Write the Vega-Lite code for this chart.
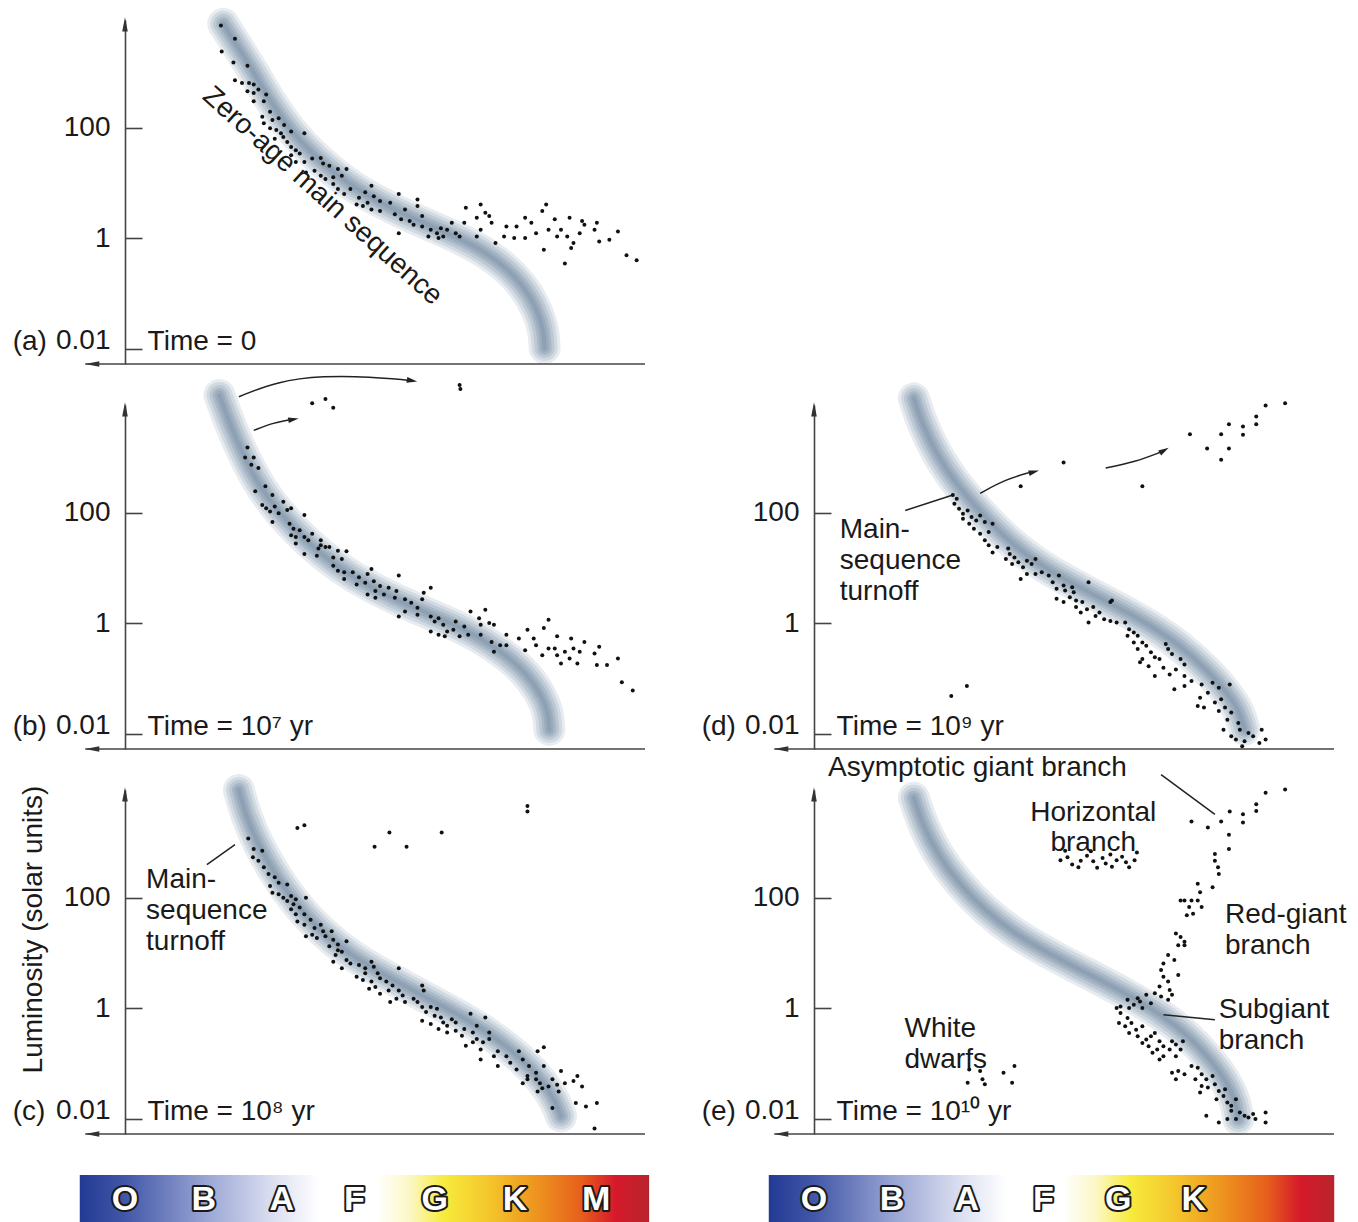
{
  "$schema": "https://vega.github.io/schema/vega-lite/v6.json",
  "background": "white",
  "padding": {"left": 12, "top": -41, "right": 0, "bottom": 0},
  "columns": 2,
  "bounds": "flush",
  "spacing": {"row": 41, "column": 169},
  "datasets": {
    "frame": [{"spec": -0.51, "spec2": 6.667, "logL": -2.28}],
    "frame_heads": [{"spec": -0.42, "logL": -2.28, "angle": 180}, {"spec": 0, "logL": 3.87, "angle": -90}],
    "band_a": [{"spec":1.26,"logL":3.88},{"spec":1.43,"logL":3.50},{"spec":1.65,"logL":3.01},{"spec":1.86,"logL":2.48},{"spec":2.13,"logL":1.93},{"spec":2.46,"logL":1.44},{"spec":2.83,"logL":1.01},{"spec":3.27,"logL":0.64},{"spec":3.81,"logL":0.28},{"spec":4.35,"logL":-0.03},{"spec":4.78,"logL":-0.40},{"spec":5.10,"logL":-0.83},{"spec":5.29,"logL":-1.31},{"spec":5.37,"logL":-1.68},{"spec":5.38,"logL":-1.99}],
    "band_b": [{"spec":1.21,"logL":4.13},{"spec":1.35,"logL":3.58},{"spec":1.54,"logL":2.97},{"spec":1.75,"logL":2.42},{"spec":2.02,"logL":1.93},{"spec":2.35,"logL":1.44},{"spec":2.73,"logL":1.01},{"spec":3.16,"logL":0.64},{"spec":3.70,"logL":0.28},{"spec":4.24,"logL":-0.03},{"spec":4.72,"logL":-0.40},{"spec":5.10,"logL":-0.83},{"spec":5.32,"logL":-1.25},{"spec":5.43,"logL":-1.62},{"spec":5.44,"logL":-1.93}],
    "band_c": [{"spec":1.46,"logL":3.95},{"spec":1.54,"logL":3.52},{"spec":1.70,"logL":2.98},{"spec":1.92,"logL":2.43},{"spec":2.19,"logL":1.88},{"spec":2.51,"logL":1.39},{"spec":2.89,"logL":0.96},{"spec":3.32,"logL":0.60},{"spec":3.81,"logL":0.23},{"spec":4.29,"logL":-0.13},{"spec":4.72,"logL":-0.50},{"spec":5.10,"logL":-0.93},{"spec":5.37,"logL":-1.35},{"spec":5.53,"logL":-1.72},{"spec":5.59,"logL":-1.96}],
    "band_d": [{"spec":1.28,"logL":4.07},{"spec":1.39,"logL":3.59},{"spec":1.58,"logL":3.04},{"spec":1.80,"logL":2.56},{"spec":2.13,"logL":2.01},{"spec":2.46,"logL":1.53},{"spec":2.84,"logL":1.10},{"spec":3.28,"logL":0.74},{"spec":3.77,"logL":0.38},{"spec":4.26,"logL":0.01},{"spec":4.70,"logL":-0.41},{"spec":5.03,"logL":-0.84},{"spec":5.30,"logL":-1.26},{"spec":5.46,"logL":-1.62},{"spec":5.52,"logL":-1.93}],
    "band_e": [{"spec":1.28,"logL":3.81},{"spec":1.39,"logL":3.33},{"spec":1.58,"logL":2.79},{"spec":1.86,"logL":2.25},{"spec":2.19,"logL":1.77},{"spec":2.57,"logL":1.35},{"spec":3.01,"logL":0.99},{"spec":3.50,"logL":0.63},{"spec":3.99,"logL":0.27},{"spec":4.43,"logL":-0.09},{"spec":4.81,"logL":-0.51},{"spec":5.08,"logL":-0.93},{"spec":5.30,"logL":-1.35},{"spec":5.41,"logL":-1.71},{"spec":5.44,"logL":-2.01}],
    "dots_a": [{"spec":1.23,"logL":3.85},{"spec":1.41,"logL":3.61},{"spec":1.24,"logL":3.38},{"spec":1.39,"logL":3.18},{"spec":1.57,"logL":3.12},{"spec":1.41,"logL":2.86},{"spec":1.50,"logL":2.81},{"spec":1.59,"logL":2.81},{"spec":1.65,"logL":2.78},{"spec":1.57,"logL":2.66},{"spec":1.65,"logL":2.63},{"spec":1.71,"logL":2.69},{"spec":1.81,"logL":2.60},{"spec":1.78,"logL":2.48},{"spec":1.65,"logL":2.48},{"spec":1.86,"logL":2.29},{"spec":1.76,"logL":2.20},{"spec":1.89,"logL":2.14},{"spec":1.97,"logL":2.17},{"spec":2.04,"logL":2.05},{"spec":1.78,"logL":2.08},{"spec":1.86,"logL":1.99},{"spec":1.94,"logL":1.96},{"spec":2.00,"logL":1.90},{"spec":2.13,"logL":1.93},{"spec":2.30,"logL":1.90},{"spec":1.92,"logL":1.80},{"spec":2.03,"logL":1.83},{"spec":2.08,"logL":1.74},{"spec":2.13,"logL":1.65},{"spec":2.19,"logL":1.59},{"spec":2.24,"logL":1.53},{"spec":2.13,"logL":1.50},{"spec":2.19,"logL":1.38},{"spec":2.30,"logL":1.38},{"spec":2.40,"logL":1.44},{"spec":2.51,"logL":1.45},{"spec":2.54,"logL":1.35},{"spec":2.62,"logL":1.31},{"spec":2.73,"logL":1.25},{"spec":2.84,"logL":1.25},{"spec":2.32,"logL":1.19},{"spec":2.43,"logL":1.22},{"spec":2.51,"logL":1.13},{"spec":2.67,"logL":1.10},{"spec":2.78,"logL":1.13},{"spec":2.57,"logL":1.07},{"spec":2.67,"logL":0.98},{"spec":2.73,"logL":0.89},{"spec":2.81,"logL":0.80},{"spec":2.89,"logL":0.89},{"spec":3.16,"logL":0.95},{"spec":3.08,"logL":0.83},{"spec":3.19,"logL":0.76},{"spec":3.27,"logL":0.67},{"spec":3.00,"logL":0.73},{"spec":3.11,"logL":0.64},{"spec":2.97,"logL":0.61},{"spec":3.05,"logL":0.58},{"spec":3.16,"logL":0.52},{"spec":3.27,"logL":0.49},{"spec":3.40,"logL":0.64},{"spec":3.51,"logL":0.80},{"spec":3.75,"logL":0.70},{"spec":3.59,"logL":0.52},{"spec":3.46,"logL":0.43},{"spec":3.54,"logL":0.34},{"spec":3.65,"logL":0.31},{"spec":3.75,"logL":0.58},{"spec":3.81,"logL":0.40},{"spec":3.70,"logL":0.24},{"spec":3.51,"logL":0.09},{"spec":3.81,"logL":0.21},{"spec":3.92,"logL":0.15},{"spec":3.89,"logL":0.03},{"spec":4.00,"logL":0.09},{"spec":4.08,"logL":0.03},{"spec":4.05,"logL":0.18},{"spec":4.13,"logL":0.15},{"spec":4.19,"logL":0.28},{"spec":4.24,"logL":0.09},{"spec":4.35,"logL":0.28},{"spec":4.37,"logL":0.55},{"spec":4.51,"logL":0.37},{"spec":4.56,"logL":0.61},{"spec":4.62,"logL":0.46},{"spec":4.70,"logL":0.28},{"spec":4.56,"logL":0.15},{"spec":4.75,"logL":-0.09},{"spec":4.67,"logL":0.40},{"spec":4.86,"logL":0.03},{"spec":4.89,"logL":0.21},{"spec":5.02,"logL":0.21},{"spec":5.13,"logL":0.37},{"spec":5.21,"logL":0.28},{"spec":5.13,"logL":0.00},{"spec":5.27,"logL":0.09},{"spec":5.35,"logL":0.49},{"spec":5.40,"logL":0.61},{"spec":5.43,"logL":0.15},{"spec":5.37,"logL":-0.21},{"spec":5.51,"logL":0.34},{"spec":5.54,"logL":0.03},{"spec":5.59,"logL":0.15},{"spec":5.67,"logL":0.03},{"spec":5.70,"logL":0.37},{"spec":5.72,"logL":-0.18},{"spec":5.75,"logL":-0.09},{"spec":5.83,"logL":0.09},{"spec":5.86,"logL":0.31},{"spec":5.89,"logL":0.24},{"spec":5.64,"logL":-0.46},{"spec":6.02,"logL":0.15},{"spec":6.05,"logL":0.28},{"spec":6.08,"logL":-0.06},{"spec":6.21,"logL":-0.03},{"spec":6.32,"logL":0.12},{"spec":6.43,"logL":-0.31},{"spec":6.56,"logL":-0.40},{"spec":4.51,"logL":0.03},{"spec":4.29,"logL":0.03},{"spec":4.02,"logL":0.00},{"spec":4.99,"logL":0.00}],
    "dots_b": [{"spec":2.40,"logL":3.98},{"spec":2.57,"logL":4.06},{"spec":2.67,"logL":3.90},{"spec":4.29,"logL":4.31},{"spec":4.30,"logL":4.24},{"spec":1.57,"logL":3.18},{"spec":1.54,"logL":3.00},{"spec":1.65,"logL":3.00},{"spec":1.62,"logL":2.87},{"spec":1.71,"logL":2.81},{"spec":1.67,"logL":2.39},{"spec":1.80,"logL":2.48},{"spec":1.89,"logL":2.32},{"spec":1.76,"logL":2.14},{"spec":1.81,"logL":2.08},{"spec":1.92,"logL":2.11},{"spec":2.03,"logL":2.20},{"spec":1.86,"logL":2.02},{"spec":1.97,"logL":1.99},{"spec":1.89,"logL":1.83},{"spec":2.08,"logL":2.05},{"spec":2.13,"logL":2.08},{"spec":2.30,"logL":1.96},{"spec":2.11,"logL":1.80},{"spec":2.16,"logL":1.71},{"spec":2.24,"logL":1.68},{"spec":2.19,"logL":1.56},{"spec":2.13,"logL":1.59},{"spec":2.30,"logL":1.56},{"spec":2.35,"logL":1.50},{"spec":2.40,"logL":1.62},{"spec":2.51,"logL":1.50},{"spec":2.48,"logL":1.35},{"spec":2.51,"logL":1.41},{"spec":2.57,"logL":1.38},{"spec":2.62,"logL":1.38},{"spec":2.73,"logL":1.31},{"spec":2.84,"logL":1.30},{"spec":2.19,"logL":1.44},{"spec":2.30,"logL":1.25},{"spec":2.46,"logL":1.22},{"spec":2.67,"logL":1.19},{"spec":2.78,"logL":1.16},{"spec":2.67,"logL":1.04},{"spec":2.73,"logL":0.95},{"spec":2.81,"logL":0.92},{"spec":2.92,"logL":0.92},{"spec":2.81,"logL":0.80},{"spec":3.00,"logL":0.83},{"spec":3.11,"logL":0.89},{"spec":3.16,"logL":0.98},{"spec":2.97,"logL":0.70},{"spec":3.08,"logL":0.73},{"spec":3.19,"logL":0.76},{"spec":3.27,"logL":0.67},{"spec":3.21,"logL":0.58},{"spec":3.11,"logL":0.52},{"spec":3.21,"logL":0.46},{"spec":3.32,"logL":0.52},{"spec":3.38,"logL":0.64},{"spec":3.51,"logL":0.86},{"spec":3.48,"logL":0.58},{"spec":3.46,"logL":0.46},{"spec":3.59,"logL":0.43},{"spec":3.67,"logL":0.37},{"spec":3.51,"logL":0.12},{"spec":3.59,"logL":0.21},{"spec":3.75,"logL":0.28},{"spec":3.81,"logL":0.43},{"spec":3.83,"logL":0.55},{"spec":3.92,"logL":0.64},{"spec":3.75,"logL":0.15},{"spec":3.92,"logL":0.12},{"spec":3.97,"logL":0.03},{"spec":4.02,"logL":0.09},{"spec":4.08,"logL":-0.03},{"spec":4.13,"logL":-0.15},{"spec":3.92,"logL":-0.15},{"spec":4.02,"logL":-0.21},{"spec":4.10,"logL":-0.24},{"spec":4.21,"logL":-0.12},{"spec":4.24,"logL":0.03},{"spec":4.35,"logL":-0.06},{"spec":4.43,"logL":0.21},{"spec":4.29,"logL":-0.24},{"spec":4.40,"logL":-0.21},{"spec":4.54,"logL":0.09},{"spec":4.62,"logL":0.24},{"spec":4.56,"logL":-0.03},{"spec":4.67,"logL":0.00},{"spec":4.73,"logL":-0.03},{"spec":4.56,"logL":-0.21},{"spec":4.70,"logL":-0.34},{"spec":4.73,"logL":-0.52},{"spec":4.81,"logL":-0.40},{"spec":4.89,"logL":-0.21},{"spec":4.89,"logL":-0.40},{"spec":5.05,"logL":-0.28},{"spec":5.16,"logL":-0.12},{"spec":5.24,"logL":-0.28},{"spec":5.13,"logL":-0.49},{"spec":5.27,"logL":-0.40},{"spec":5.37,"logL":-0.09},{"spec":5.43,"logL":0.06},{"spec":5.35,"logL":-0.58},{"spec":5.43,"logL":-0.46},{"spec":5.54,"logL":-0.24},{"spec":5.51,"logL":-0.46},{"spec":5.54,"logL":-0.58},{"spec":5.64,"logL":-0.52},{"spec":5.59,"logL":-0.73},{"spec":5.70,"logL":-0.64},{"spec":5.72,"logL":-0.28},{"spec":5.75,"logL":-0.46},{"spec":5.80,"logL":-0.73},{"spec":5.89,"logL":-0.34},{"spec":5.83,"logL":-0.52},{"spec":6.02,"logL":-0.55},{"spec":6.08,"logL":-0.43},{"spec":6.05,"logL":-0.76},{"spec":6.18,"logL":-0.76},{"spec":6.32,"logL":-0.64},{"spec":6.37,"logL":-1.07},{"spec":6.51,"logL":-1.22}],
    "dots_c": [{"spec":2.21,"logL":3.26},{"spec":2.30,"logL":3.31},{"spec":3.20,"logL":2.92},{"spec":3.39,"logL":3.18},{"spec":3.61,"logL":2.92},{"spec":4.06,"logL":3.18},{"spec":5.16,"logL":3.66},{"spec":5.16,"logL":3.56},{"spec":1.58,"logL":3.07},{"spec":1.65,"logL":2.88},{"spec":1.64,"logL":2.73},{"spec":1.76,"logL":2.85},{"spec":1.71,"logL":2.67},{"spec":1.78,"logL":2.55},{"spec":1.84,"logL":2.43},{"spec":1.92,"logL":2.37},{"spec":1.86,"logL":2.21},{"spec":1.97,"logL":2.27},{"spec":2.08,"logL":2.24},{"spec":1.89,"logL":2.09},{"spec":1.97,"logL":2.06},{"spec":2.03,"logL":2.00},{"spec":2.13,"logL":2.03},{"spec":2.19,"logL":1.97},{"spec":2.32,"logL":2.00},{"spec":2.08,"logL":1.94},{"spec":2.16,"logL":1.88},{"spec":2.24,"logL":1.82},{"spec":2.13,"logL":1.79},{"spec":2.19,"logL":1.70},{"spec":2.30,"logL":1.70},{"spec":2.21,"logL":1.57},{"spec":2.30,"logL":1.51},{"spec":2.38,"logL":1.60},{"spec":2.43,"logL":1.45},{"spec":2.51,"logL":1.51},{"spec":2.54,"logL":1.39},{"spec":2.40,"logL":1.33},{"spec":2.32,"logL":1.30},{"spec":2.46,"logL":1.27},{"spec":2.57,"logL":1.30},{"spec":2.65,"logL":1.39},{"spec":2.67,"logL":1.24},{"spec":2.73,"logL":1.15},{"spec":2.84,"logL":1.21},{"spec":2.62,"logL":1.12},{"spec":2.73,"logL":1.05},{"spec":2.70,"logL":0.96},{"spec":2.78,"logL":1.02},{"spec":2.67,"logL":0.84},{"spec":2.84,"logL":0.87},{"spec":2.78,"logL":0.72},{"spec":2.89,"logL":0.81},{"spec":3.00,"logL":0.78},{"spec":3.08,"logL":0.72},{"spec":3.16,"logL":0.84},{"spec":3.19,"logL":0.75},{"spec":2.97,"logL":0.57},{"spec":3.08,"logL":0.63},{"spec":3.24,"logL":0.63},{"spec":3.05,"logL":0.51},{"spec":3.16,"logL":0.48},{"spec":3.27,"logL":0.54},{"spec":3.35,"logL":0.48},{"spec":3.51,"logL":0.72},{"spec":3.21,"logL":0.38},{"spec":3.13,"logL":0.35},{"spec":3.38,"logL":0.32},{"spec":3.27,"logL":0.26},{"spec":3.43,"logL":0.41},{"spec":3.51,"logL":0.32},{"spec":3.56,"logL":0.23},{"spec":3.48,"logL":0.17},{"spec":3.40,"logL":0.11},{"spec":3.59,"logL":0.11},{"spec":3.70,"logL":0.17},{"spec":3.81,"logL":0.41},{"spec":3.83,"logL":0.32},{"spec":3.75,"logL":0.11},{"spec":3.81,"logL":0.02},{"spec":3.92,"logL":0.02},{"spec":4.00,"logL":-0.01},{"spec":3.86,"logL":-0.07},{"spec":3.81,"logL":-0.23},{"spec":3.97,"logL":-0.14},{"spec":4.05,"logL":-0.17},{"spec":4.08,"logL":-0.26},{"spec":3.92,"logL":-0.29},{"spec":4.13,"logL":-0.32},{"spec":4.19,"logL":-0.20},{"spec":4.24,"logL":-0.26},{"spec":4.02,"logL":-0.38},{"spec":4.13,"logL":-0.44},{"spec":4.24,"logL":-0.41},{"spec":4.32,"logL":-0.50},{"spec":4.35,"logL":-0.38},{"spec":4.43,"logL":-0.10},{"spec":4.46,"logL":-0.44},{"spec":4.51,"logL":-0.32},{"spec":4.62,"logL":-0.17},{"spec":4.51,"logL":-0.56},{"spec":4.59,"logL":-0.62},{"spec":4.67,"logL":-0.44},{"spec":4.67,"logL":-0.56},{"spec":4.37,"logL":-0.68},{"spec":4.56,"logL":-0.75},{"spec":4.46,"logL":-0.62},{"spec":4.73,"logL":-0.87},{"spec":4.56,"logL":-0.93},{"spec":4.78,"logL":-0.78},{"spec":4.89,"logL":-0.87},{"spec":4.94,"logL":-0.99},{"spec":5.05,"logL":-0.78},{"spec":4.78,"logL":-1.05},{"spec":5.02,"logL":-1.11},{"spec":5.10,"logL":-0.93},{"spec":5.18,"logL":-1.05},{"spec":5.27,"logL":-1.17},{"spec":5.16,"logL":-1.23},{"spec":5.27,"logL":-1.29},{"spec":5.32,"logL":-1.36},{"spec":5.10,"logL":-1.36},{"spec":5.16,"logL":-1.29},{"spec":5.29,"logL":-0.78},{"spec":5.37,"logL":-0.71},{"spec":5.37,"logL":-1.05},{"spec":5.35,"logL":-1.45},{"spec":5.43,"logL":-1.42},{"spec":5.29,"logL":-1.51},{"spec":5.48,"logL":-1.29},{"spec":5.54,"logL":-1.39},{"spec":5.59,"logL":-1.14},{"spec":5.56,"logL":-1.51},{"spec":5.64,"logL":-1.36},{"spec":5.75,"logL":-1.32},{"spec":5.80,"logL":-1.23},{"spec":5.86,"logL":-1.42},{"spec":5.78,"logL":-1.72},{"spec":5.91,"logL":-1.78},{"spec":6.05,"logL":-1.72},{"spec":6.02,"logL":-2.18},{"spec":5.48,"logL":-1.81}],
    "dots_d": [{"spec":2.65,"logL":2.48},{"spec":3.20,"logL":2.91},{"spec":4.21,"logL":2.48},{"spec":4.82,"logL":3.42},{"spec":5.04,"logL":3.16},{"spec":5.22,"logL":3.42},{"spec":5.32,"logL":3.60},{"spec":5.32,"logL":3.16},{"spec":5.22,"logL":2.96},{"spec":5.50,"logL":3.56},{"spec":5.50,"logL":3.41},{"spec":5.67,"logL":3.74},{"spec":5.67,"logL":3.60},{"spec":5.79,"logL":3.94},{"spec":6.04,"logL":3.98},{"spec":1.76,"logL":-1.32},{"spec":1.96,"logL":-1.14},{"spec":1.78,"logL":2.32},{"spec":1.80,"logL":2.16},{"spec":1.86,"logL":2.07},{"spec":1.91,"logL":1.98},{"spec":1.83,"logL":2.25},{"spec":1.97,"logL":2.04},{"spec":2.02,"logL":1.92},{"spec":1.91,"logL":1.89},{"spec":1.99,"logL":1.80},{"spec":2.08,"logL":1.86},{"spec":2.13,"logL":1.95},{"spec":2.19,"logL":1.83},{"spec":2.05,"logL":1.71},{"spec":2.13,"logL":1.62},{"spec":2.24,"logL":1.65},{"spec":2.29,"logL":1.80},{"spec":2.19,"logL":1.50},{"spec":2.24,"logL":1.41},{"spec":2.29,"logL":1.28},{"spec":2.35,"logL":1.38},{"spec":2.49,"logL":1.35},{"spec":2.51,"logL":1.25},{"spec":2.46,"logL":1.16},{"spec":2.57,"logL":1.19},{"spec":2.62,"logL":1.10},{"spec":2.54,"logL":1.07},{"spec":2.68,"logL":1.01},{"spec":2.73,"logL":1.13},{"spec":2.79,"logL":1.07},{"spec":2.84,"logL":1.16},{"spec":2.65,"logL":0.80},{"spec":2.73,"logL":0.89},{"spec":2.84,"logL":0.89},{"spec":2.92,"logL":0.92},{"spec":3.01,"logL":0.86},{"spec":3.14,"logL":0.86},{"spec":3.06,"logL":0.74},{"spec":3.11,"logL":0.62},{"spec":3.20,"logL":0.68},{"spec":3.22,"logL":0.59},{"spec":3.31,"logL":0.65},{"spec":3.33,"logL":0.56},{"spec":3.52,"logL":0.74},{"spec":3.11,"logL":0.44},{"spec":3.20,"logL":0.38},{"spec":3.28,"logL":0.47},{"spec":3.36,"logL":0.41},{"spec":3.44,"logL":0.38},{"spec":3.50,"logL":0.25},{"spec":3.58,"logL":0.29},{"spec":3.66,"logL":0.19},{"spec":3.80,"logL":0.38},{"spec":3.82,"logL":0.41},{"spec":3.36,"logL":0.29},{"spec":3.42,"logL":0.19},{"spec":3.52,"logL":0.01},{"spec":3.61,"logL":0.13},{"spec":3.72,"logL":0.07},{"spec":3.80,"logL":0.04},{"spec":3.88,"logL":0.01},{"spec":3.99,"logL":0.01},{"spec":4.04,"logL":-0.11},{"spec":4.10,"logL":-0.17},{"spec":4.02,"logL":-0.23},{"spec":4.15,"logL":-0.23},{"spec":4.21,"logL":-0.35},{"spec":4.10,"logL":-0.35},{"spec":4.15,"logL":-0.47},{"spec":4.26,"logL":-0.41},{"spec":4.32,"logL":-0.53},{"spec":4.21,"logL":-0.65},{"spec":4.37,"logL":-0.62},{"spec":4.43,"logL":-0.65},{"spec":4.51,"logL":-0.38},{"spec":4.54,"logL":-0.47},{"spec":4.59,"logL":-0.56},{"spec":4.70,"logL":-0.65},{"spec":4.75,"logL":-0.75},{"spec":4.18,"logL":-0.71},{"spec":4.29,"logL":-0.78},{"spec":4.37,"logL":-0.96},{"spec":4.48,"logL":-0.81},{"spec":4.56,"logL":-0.93},{"spec":4.64,"logL":-0.84},{"spec":4.75,"logL":-0.96},{"spec":4.62,"logL":-1.20},{"spec":4.75,"logL":-1.14},{"spec":4.84,"logL":-1.05},{"spec":4.97,"logL":-1.11},{"spec":4.95,"logL":-1.35},{"spec":5.05,"logL":-1.26},{"spec":5.11,"logL":-1.08},{"spec":5.19,"logL":-1.17},{"spec":5.33,"logL":-1.11},{"spec":5.14,"logL":-1.44},{"spec":5.22,"logL":-1.38},{"spec":5.27,"logL":-1.53},{"spec":5.19,"logL":-1.59},{"spec":5.35,"logL":-1.62},{"spec":5.30,"logL":-1.75},{"spec":5.44,"logL":-1.81},{"spec":5.25,"logL":-1.93},{"spec":5.35,"logL":-2.05},{"spec":5.46,"logL":-1.93},{"spec":5.52,"logL":-2.14},{"spec":5.57,"logL":-1.99},{"spec":5.63,"logL":-2.05},{"spec":5.74,"logL":-1.93},{"spec":5.79,"logL":-2.11},{"spec":5.71,"logL":-2.17},{"spec":5.49,"logL":-2.23},{"spec":5.41,"logL":-2.11},{"spec":4.92,"logL":-1.50},{"spec":5.00,"logL":-1.53}],
    "dots_e": [{"spec":3.16,"logL":2.68},{"spec":3.25,"logL":2.73},{"spec":3.31,"logL":2.60},{"spec":3.39,"logL":2.55},{"spec":3.42,"logL":2.67},{"spec":3.50,"logL":2.76},{"spec":3.58,"logL":2.66},{"spec":3.63,"logL":2.54},{"spec":3.70,"logL":2.72},{"spec":3.74,"logL":2.62},{"spec":3.82,"logL":2.56},{"spec":3.88,"logL":2.68},{"spec":3.95,"logL":2.74},{"spec":4.00,"logL":2.64},{"spec":4.04,"logL":2.55},{"spec":4.11,"logL":2.68},{"spec":4.14,"logL":2.82},{"spec":3.55,"logL":2.84},{"spec":3.22,"logL":2.85},{"spec":3.80,"logL":2.78},{"spec":4.84,"logL":3.38},{"spec":5.05,"logL":3.27},{"spec":5.22,"logL":3.38},{"spec":5.33,"logL":3.56},{"spec":5.32,"logL":3.14},{"spec":5.32,"logL":2.88},{"spec":5.50,"logL":3.51},{"spec":5.50,"logL":3.36},{"spec":5.67,"logL":3.69},{"spec":5.67,"logL":3.57},{"spec":5.79,"logL":3.90},{"spec":6.04,"logL":3.96},{"spec":5.14,"logL":2.79},{"spec":5.14,"logL":2.67},{"spec":5.18,"logL":2.55},{"spec":5.19,"logL":2.43},{"spec":5.11,"logL":2.19},{"spec":4.92,"logL":2.25},{"spec":4.95,"logL":2.10},{"spec":4.75,"logL":1.95},{"spec":4.84,"logL":1.95},{"spec":4.92,"logL":1.95},{"spec":4.97,"logL":1.83},{"spec":4.81,"logL":1.83},{"spec":4.86,"logL":1.71},{"spec":4.78,"logL":1.68},{"spec":4.70,"logL":1.95},{"spec":4.64,"logL":1.35},{"spec":4.70,"logL":1.29},{"spec":4.75,"logL":1.20},{"spec":4.67,"logL":1.14},{"spec":4.75,"logL":1.14},{"spec":4.54,"logL":0.96},{"spec":4.62,"logL":0.87},{"spec":4.48,"logL":0.81},{"spec":4.45,"logL":0.69},{"spec":4.48,"logL":0.57},{"spec":4.67,"logL":0.60},{"spec":4.54,"logL":0.48},{"spec":4.43,"logL":0.39},{"spec":4.56,"logL":0.33},{"spec":4.59,"logL":0.24},{"spec":4.45,"logL":0.21},{"spec":4.54,"logL":0.15},{"spec":4.37,"logL":0.27},{"spec":4.26,"logL":0.24},{"spec":4.15,"logL":0.18},{"spec":4.18,"logL":0.12},{"spec":4.32,"logL":0.09},{"spec":4.02,"logL":0.15},{"spec":3.93,"logL":0.03},{"spec":4.04,"logL":0.00},{"spec":4.10,"logL":0.06},{"spec":4.21,"logL":0.00},{"spec":3.88,"logL":0.00},{"spec":3.93,"logL":-0.09},{"spec":4.02,"logL":-0.18},{"spec":3.91,"logL":-0.27},{"spec":4.07,"logL":-0.27},{"spec":3.99,"logL":-0.33},{"spec":4.13,"logL":-0.39},{"spec":4.21,"logL":-0.33},{"spec":4.04,"logL":-0.45},{"spec":4.15,"logL":-0.51},{"spec":4.26,"logL":-0.57},{"spec":4.32,"logL":-0.51},{"spec":4.37,"logL":-0.45},{"spec":4.43,"logL":-0.60},{"spec":4.21,"logL":-0.63},{"spec":4.29,"logL":-0.69},{"spec":4.40,"logL":-0.75},{"spec":4.34,"logL":-0.81},{"spec":4.48,"logL":-0.69},{"spec":4.59,"logL":-0.60},{"spec":4.56,"logL":-0.75},{"spec":4.64,"logL":-0.66},{"spec":4.73,"logL":-0.60},{"spec":4.70,"logL":-0.75},{"spec":4.48,"logL":-0.87},{"spec":4.64,"logL":-0.87},{"spec":4.43,"logL":-0.93},{"spec":4.59,"logL":-1.17},{"spec":4.67,"logL":-1.14},{"spec":4.75,"logL":-1.20},{"spec":4.64,"logL":-1.29},{"spec":4.84,"logL":-1.05},{"spec":4.92,"logL":-1.08},{"spec":4.97,"logL":-1.20},{"spec":5.03,"logL":-1.29},{"spec":5.11,"logL":-1.23},{"spec":4.89,"logL":-1.29},{"spec":4.97,"logL":-1.41},{"spec":5.05,"logL":-1.44},{"spec":5.14,"logL":-1.38},{"spec":5.19,"logL":-1.50},{"spec":5.27,"logL":-1.47},{"spec":5.25,"logL":-1.59},{"spec":5.16,"logL":-1.65},{"spec":5.30,"logL":-1.71},{"spec":5.35,"logL":-1.77},{"spec":5.41,"logL":-1.65},{"spec":5.35,"logL":-1.86},{"spec":5.46,"logL":-1.89},{"spec":5.41,"logL":-2.01},{"spec":5.52,"logL":-1.95},{"spec":5.30,"logL":-2.01},{"spec":5.19,"logL":-2.07},{"spec":5.03,"logL":-1.95},{"spec":4.95,"logL":-1.53},{"spec":5.57,"logL":-1.98},{"spec":5.66,"logL":-2.01},{"spec":5.79,"logL":-1.89},{"spec":5.79,"logL":-2.07},{"spec":5.63,"logL":-1.92},{"spec":1.99,"logL":-1.11},{"spec":2.13,"logL":-1.14},{"spec":2.43,"logL":-1.17},{"spec":2.57,"logL":-1.05},{"spec":1.97,"logL":-1.35},{"spec":2.16,"logL":-1.29},{"spec":2.19,"logL":-1.38},{"spec":2.54,"logL":-1.35}],
    "classes_left": [{"spec":0,"cls":"O"},{"spec":1.01,"cls":"B"},{"spec":2.01,"cls":"A"},{"spec":2.94,"cls":"F"},{"spec":3.97,"cls":"G"},{"spec":5.0,"cls":"K"},{"spec":6.04,"cls":"M"}],
    "classes_right": [{"spec":0,"cls":"O"},{"spec":1.0,"cls":"B"},{"spec":1.96,"cls":"A"},{"spec":2.94,"cls":"F"},{"spec":3.9,"cls":"G"},{"spec":4.87,"cls":"K"}]
  },
  "concat": [
    {
      "width": 520, "height": 344,
      "encoding": {
        "x": {"field": "spec", "type": "quantitative", "scale": {"domain": [0, 6.667], "nice": false, "zero": false}, "axis": null},
        "y": {"field": "logL", "type": "quantitative", "scale": {"domain": [-2.28, 3.95], "nice": false, "zero": false},
              "axis": {"values": [-2, 0, 2], "labelExpr": "datum.value == 2 ? '100' : (datum.value == 0 ? '1' : '0.01')", "tickSize": -17, "labelPadding": 32, "title": null, "labelBaseline": {"condition": {"test": "datum.value == -2", "value": "alphabetic"}, "value": "middle"}}}
      },
      "layer": [
        {"data": {"name": "band_a"}, "mark": {"type": "line", "interpolate": "basis", "strokeCap": "round", "strokeWidth": 32, "color": "#5f7a94", "opacity": 0.14}},
        {"data": {"name": "band_a"}, "mark": {"type": "line", "interpolate": "basis", "strokeCap": "round", "strokeWidth": 26, "color": "#5f7a94", "opacity": 0.16}},
        {"data": {"name": "band_a"}, "mark": {"type": "line", "interpolate": "basis", "strokeCap": "round", "strokeWidth": 20, "color": "#5f7a94", "opacity": 0.18}},
        {"data": {"name": "band_a"}, "mark": {"type": "line", "interpolate": "basis", "strokeCap": "round", "strokeWidth": 14, "color": "#5f7a94", "opacity": 0.2}},
        {"data": {"name": "band_a"}, "mark": {"type": "line", "interpolate": "basis", "strokeCap": "round", "strokeWidth": 9, "color": "#5f7a94", "opacity": 0.2}},
        {"data": {"name": "band_a"}, "mark": {"type": "line", "interpolate": "basis", "strokeCap": "round", "strokeWidth": 4, "color": "#5f7a94", "opacity": 0.2}},
        {"data": {"name": "frame"}, "mark": {"type": "rule", "color": "#444", "strokeWidth": 1.6}, "encoding": {"x2": {"field": "spec2"}}},
        {"data": {"name": "frame_heads"}, "mark": {"type": "point", "filled": true, "opacity": 1, "color": "#333", "size": 200, "shape": "M1,0L-1,-0.4L-1,0.4Z"}, "encoding": {"angle": {"field": "angle", "type": "quantitative", "scale": null}}},
        {"data": {"name": "dots_a"}, "mark": {"type": "circle", "size": 16, "color": "#111", "opacity": 1}},
        {"data": {"values": [{"spec": -1.44, "logL": -2.02, "text": "(a)"}, {"spec": 0.29, "logL": -2.02, "text": "Time = 0"}]}, "mark": {"type": "text", "align": "left", "baseline": "alphabetic"}, "encoding": {"text": {"field": "text"}}},
        {"data": {"values": [{"spec": 2.53, "logL": 0.76, "text": "Zero-age main sequence"}]}, "mark": {"type": "text", "align": "center", "baseline": "middle", "angle": 42}, "encoding": {"text": {"field": "text"}}}
      ]
    },
    {
      "width": 520, "height": 344,
      "data": {"values": []},
      "mark": {"type": "point", "opacity": 0}
    },
    {
      "width": 520, "height": 344,
      "encoding": {
        "x": {"field": "spec", "type": "quantitative", "scale": {"domain": [0, 6.667], "nice": false, "zero": false}, "axis": null},
        "y": {"field": "logL", "type": "quantitative", "scale": {"domain": [-2.28, 3.95], "nice": false, "zero": false},
              "axis": {"values": [-2, 0, 2], "labelExpr": "datum.value == 2 ? '100' : (datum.value == 0 ? '1' : '0.01')", "tickSize": -17, "labelPadding": 32, "title": null, "labelBaseline": {"condition": {"test": "datum.value == -2", "value": "alphabetic"}, "value": "middle"}}}
      },
      "layer": [
        {"data": {"name": "band_b"}, "mark": {"type": "line", "interpolate": "basis", "strokeCap": "round", "strokeWidth": 32, "color": "#5f7a94", "opacity": 0.14}},
        {"data": {"name": "band_b"}, "mark": {"type": "line", "interpolate": "basis", "strokeCap": "round", "strokeWidth": 26, "color": "#5f7a94", "opacity": 0.16}},
        {"data": {"name": "band_b"}, "mark": {"type": "line", "interpolate": "basis", "strokeCap": "round", "strokeWidth": 20, "color": "#5f7a94", "opacity": 0.18}},
        {"data": {"name": "band_b"}, "mark": {"type": "line", "interpolate": "basis", "strokeCap": "round", "strokeWidth": 14, "color": "#5f7a94", "opacity": 0.2}},
        {"data": {"name": "band_b"}, "mark": {"type": "line", "interpolate": "basis", "strokeCap": "round", "strokeWidth": 9, "color": "#5f7a94", "opacity": 0.2}},
        {"data": {"name": "band_b"}, "mark": {"type": "line", "interpolate": "basis", "strokeCap": "round", "strokeWidth": 4, "color": "#5f7a94", "opacity": 0.2}},
        {"data": {"name": "frame"}, "mark": {"type": "rule", "color": "#444", "strokeWidth": 1.6}, "encoding": {"x2": {"field": "spec2"}}},
        {"data": {"name": "frame_heads"}, "mark": {"type": "point", "filled": true, "opacity": 1, "color": "#333", "size": 200, "shape": "M1,0L-1,-0.4L-1,0.4Z"}, "encoding": {"angle": {"field": "angle", "type": "quantitative", "scale": null}}},
        {"data": {"values": [{"id": "long", "spec": 1.46, "logL": 4.10}, {"id": "long", "spec": 1.95, "logL": 4.38}, {"id": "long", "spec": 2.55, "logL": 4.48}, {"id": "long", "spec": 3.15, "logL": 4.46}, {"id": "long", "spec": 3.62, "logL": 4.40}, {"id": "short", "spec": 1.65, "logL": 3.49}, {"id": "short", "spec": 1.88, "logL": 3.62}, {"id": "short", "spec": 2.10, "logL": 3.68}]},
         "mark": {"type": "line", "interpolate": "basis", "color": "#222", "strokeWidth": 1.5}, "encoding": {"detail": {"field": "id"}}},
        {"data": {"values": [{"spec": 3.68, "logL": 4.39, "angle": 10}, {"spec": 2.16, "logL": 3.69, "angle": -10}]},
         "mark": {"type": "point", "filled": true, "opacity": 1, "color": "#222", "size": 110, "shape": "M1,0L-1,-0.55L-1,0.55Z"}, "encoding": {"angle": {"field": "angle", "type": "quantitative", "scale": null}}},
        {"data": {"name": "dots_b"}, "mark": {"type": "circle", "size": 16, "color": "#111", "opacity": 1}},
        {"data": {"values": [{"spec": -1.44, "logL": -2.02, "text": "(b)"}, {"spec": 0.29, "logL": -2.02, "text": "Time = 10⁷ yr"}]}, "mark": {"type": "text", "align": "left", "baseline": "alphabetic"}, "encoding": {"text": {"field": "text"}}}
      ]
    },
    {
      "width": 520, "height": 344,
      "encoding": {
        "x": {"field": "spec", "type": "quantitative", "scale": {"domain": [0, 6.667], "nice": false, "zero": false}, "axis": null},
        "y": {"field": "logL", "type": "quantitative", "scale": {"domain": [-2.28, 3.95], "nice": false, "zero": false},
              "axis": {"values": [-2, 0, 2], "labelExpr": "datum.value == 2 ? '100' : (datum.value == 0 ? '1' : '0.01')", "tickSize": -17, "labelPadding": 32, "title": null, "labelBaseline": {"condition": {"test": "datum.value == -2", "value": "alphabetic"}, "value": "middle"}}}
      },
      "layer": [
        {"data": {"name": "band_d"}, "mark": {"type": "line", "interpolate": "basis", "strokeCap": "round", "strokeWidth": 32, "color": "#5f7a94", "opacity": 0.14}},
        {"data": {"name": "band_d"}, "mark": {"type": "line", "interpolate": "basis", "strokeCap": "round", "strokeWidth": 26, "color": "#5f7a94", "opacity": 0.16}},
        {"data": {"name": "band_d"}, "mark": {"type": "line", "interpolate": "basis", "strokeCap": "round", "strokeWidth": 20, "color": "#5f7a94", "opacity": 0.18}},
        {"data": {"name": "band_d"}, "mark": {"type": "line", "interpolate": "basis", "strokeCap": "round", "strokeWidth": 14, "color": "#5f7a94", "opacity": 0.2}},
        {"data": {"name": "band_d"}, "mark": {"type": "line", "interpolate": "basis", "strokeCap": "round", "strokeWidth": 9, "color": "#5f7a94", "opacity": 0.2}},
        {"data": {"name": "band_d"}, "mark": {"type": "line", "interpolate": "basis", "strokeCap": "round", "strokeWidth": 4, "color": "#5f7a94", "opacity": 0.2}},
        {"data": {"name": "frame"}, "mark": {"type": "rule", "color": "#444", "strokeWidth": 1.6}, "encoding": {"x2": {"field": "spec2"}}},
        {"data": {"name": "frame_heads"}, "mark": {"type": "point", "filled": true, "opacity": 1, "color": "#333", "size": 200, "shape": "M1,0L-1,-0.4L-1,0.4Z"}, "encoding": {"angle": {"field": "angle", "type": "quantitative", "scale": null}}},
        {"data": {"values": [{"id": "a1", "spec": 2.13, "logL": 2.35}, {"id": "a1", "spec": 2.45, "logL": 2.60}, {"id": "a1", "spec": 2.77, "logL": 2.73}, {"id": "a2", "spec": 3.74, "logL": 2.81}, {"id": "a2", "spec": 4.12, "logL": 2.92}, {"id": "a2", "spec": 4.45, "logL": 3.10}]},
         "mark": {"type": "line", "interpolate": "basis", "color": "#222", "strokeWidth": 1.5}, "encoding": {"detail": {"field": "id"}}},
        {"data": {"values": [{"spec": 2.82, "logL": 2.74, "angle": -15}, {"spec": 4.49, "logL": 3.13, "angle": -30}]},
         "mark": {"type": "point", "filled": true, "opacity": 1, "color": "#222", "size": 110, "shape": "M1,0L-1,-0.55L-1,0.55Z"}, "encoding": {"angle": {"field": "angle", "type": "quantitative", "scale": null}}},
        {"data": {"values": [{"spec": 1.17, "logL": 2.04, "spec2": 1.78, "logL2": 2.32}]}, "mark": {"type": "rule", "color": "#222", "strokeWidth": 1.5}, "encoding": {"x2": {"field": "spec2"}, "y2": {"field": "logL2"}}},
        {"data": {"name": "dots_d"}, "mark": {"type": "circle", "size": 16, "color": "#111", "opacity": 1}},
        {"data": {"values": [{"spec": -1.44, "logL": -2.02, "text": "(d)"}, {"spec": 0.29, "logL": -2.02, "text": "Time = 10⁹ yr"}, {"spec": 0.33, "logL": 1.55, "text": "Main-\nsequence\nturnoff"}]}, "mark": {"type": "text", "align": "left", "baseline": "alphabetic", "lineBreak": "\n", "lineHeight": 31}, "encoding": {"text": {"field": "text"}}}
      ]
    },
    {
      "width": 520, "height": 344,
      "encoding": {
        "x": {"field": "spec", "type": "quantitative", "scale": {"domain": [0, 6.667], "nice": false, "zero": false}, "axis": null},
        "y": {"field": "logL", "type": "quantitative", "scale": {"domain": [-2.28, 3.95], "nice": false, "zero": false},
              "axis": {"values": [-2, 0, 2], "labelExpr": "datum.value == 2 ? '100' : (datum.value == 0 ? '1' : '0.01')", "tickSize": -17, "labelPadding": 32, "labelBaseline": {"condition": {"test": "datum.value == -2", "value": "alphabetic"}, "value": "middle"},
                       "title": "Luminosity (solar units)", "titleFontSize": 28, "titleFontWeight": "normal", "titleColor": "#1a1a1a", "titleFont": "Liberation Sans", "titleX": -78, "titleY": 139, "titleAngle": 270, "titleBaseline": "bottom", "titleAlign": "center"}}
      },
      "layer": [
        {"data": {"name": "band_c"}, "mark": {"type": "line", "interpolate": "basis", "strokeCap": "round", "strokeWidth": 32, "color": "#5f7a94", "opacity": 0.14}},
        {"data": {"name": "band_c"}, "mark": {"type": "line", "interpolate": "basis", "strokeCap": "round", "strokeWidth": 26, "color": "#5f7a94", "opacity": 0.16}},
        {"data": {"name": "band_c"}, "mark": {"type": "line", "interpolate": "basis", "strokeCap": "round", "strokeWidth": 20, "color": "#5f7a94", "opacity": 0.18}},
        {"data": {"name": "band_c"}, "mark": {"type": "line", "interpolate": "basis", "strokeCap": "round", "strokeWidth": 14, "color": "#5f7a94", "opacity": 0.2}},
        {"data": {"name": "band_c"}, "mark": {"type": "line", "interpolate": "basis", "strokeCap": "round", "strokeWidth": 9, "color": "#5f7a94", "opacity": 0.2}},
        {"data": {"name": "band_c"}, "mark": {"type": "line", "interpolate": "basis", "strokeCap": "round", "strokeWidth": 4, "color": "#5f7a94", "opacity": 0.2}},
        {"data": {"name": "frame"}, "mark": {"type": "rule", "color": "#444", "strokeWidth": 1.6}, "encoding": {"x2": {"field": "spec2"}}},
        {"data": {"name": "frame_heads"}, "mark": {"type": "point", "filled": true, "opacity": 1, "color": "#333", "size": 200, "shape": "M1,0L-1,-0.4L-1,0.4Z"}, "encoding": {"angle": {"field": "angle", "type": "quantitative", "scale": null}}},
        {"data": {"values": [{"spec": 1.05, "logL": 2.60, "spec2": 1.41, "logL2": 2.96}]}, "mark": {"type": "rule", "color": "#222", "strokeWidth": 1.5}, "encoding": {"x2": {"field": "spec2"}, "y2": {"field": "logL2"}}},
        {"data": {"name": "dots_c"}, "mark": {"type": "circle", "size": 16, "color": "#111", "opacity": 1}},
        {"data": {"values": [{"spec": -1.44, "logL": -2.02, "text": "(c)"}, {"spec": 0.29, "logL": -2.02, "text": "Time = 10⁸ yr"}, {"spec": 0.27, "logL": 2.17, "text": "Main-\nsequence\nturnoff"}]}, "mark": {"type": "text", "align": "left", "baseline": "alphabetic", "lineBreak": "\n", "lineHeight": 31}, "encoding": {"text": {"field": "text"}}}
      ]
    },
    {
      "width": 520, "height": 344,
      "encoding": {
        "x": {"field": "spec", "type": "quantitative", "scale": {"domain": [0, 6.667], "nice": false, "zero": false}, "axis": null},
        "y": {"field": "logL", "type": "quantitative", "scale": {"domain": [-2.28, 3.95], "nice": false, "zero": false},
              "axis": {"values": [-2, 0, 2], "labelExpr": "datum.value == 2 ? '100' : (datum.value == 0 ? '1' : '0.01')", "tickSize": -17, "labelPadding": 32, "title": null, "labelBaseline": {"condition": {"test": "datum.value == -2", "value": "alphabetic"}, "value": "middle"}}}
      },
      "layer": [
        {"data": {"name": "band_e"}, "mark": {"type": "line", "interpolate": "basis", "strokeCap": "round", "strokeWidth": 32, "color": "#5f7a94", "opacity": 0.14}},
        {"data": {"name": "band_e"}, "mark": {"type": "line", "interpolate": "basis", "strokeCap": "round", "strokeWidth": 26, "color": "#5f7a94", "opacity": 0.16}},
        {"data": {"name": "band_e"}, "mark": {"type": "line", "interpolate": "basis", "strokeCap": "round", "strokeWidth": 20, "color": "#5f7a94", "opacity": 0.18}},
        {"data": {"name": "band_e"}, "mark": {"type": "line", "interpolate": "basis", "strokeCap": "round", "strokeWidth": 14, "color": "#5f7a94", "opacity": 0.2}},
        {"data": {"name": "band_e"}, "mark": {"type": "line", "interpolate": "basis", "strokeCap": "round", "strokeWidth": 9, "color": "#5f7a94", "opacity": 0.2}},
        {"data": {"name": "band_e"}, "mark": {"type": "line", "interpolate": "basis", "strokeCap": "round", "strokeWidth": 4, "color": "#5f7a94", "opacity": 0.2}},
        {"data": {"name": "frame"}, "mark": {"type": "rule", "color": "#444", "strokeWidth": 1.6}, "encoding": {"x2": {"field": "spec2"}}},
        {"data": {"name": "frame_heads"}, "mark": {"type": "point", "filled": true, "opacity": 1, "color": "#333", "size": 200, "shape": "M1,0L-1,-0.4L-1,0.4Z"}, "encoding": {"angle": {"field": "angle", "type": "quantitative", "scale": null}}},
        {"data": {"values": [{"spec": 4.45, "logL": 4.23, "spec2": 5.14, "logL2": 3.51}, {"spec": 4.48, "logL": -0.12, "spec2": 5.14, "logL2": -0.21}]}, "mark": {"type": "rule", "color": "#222", "strokeWidth": 1.5}, "encoding": {"x2": {"field": "spec2"}, "y2": {"field": "logL2"}}},
        {"data": {"name": "dots_e"}, "mark": {"type": "circle", "size": 16, "color": "#111", "opacity": 1}},
        {"data": {"values": [{"spec": -1.44, "logL": -2.02, "text": "(e)"}, {"spec": 0.29, "logL": -2.02, "text": "Time = 10¹⁰ yr"}, {"spec": 0.18, "logL": 4.2, "text": "Asymptotic giant branch"}, {"spec": 5.27, "logL": 1.55, "text": "Red-giant\nbranch"}, {"spec": 5.19, "logL": -0.18, "text": "Subgiant\nbranch"}, {"spec": 1.16, "logL": -0.53, "text": "White\ndwarfs"}]}, "mark": {"type": "text", "align": "left", "baseline": "alphabetic", "lineBreak": "\n", "lineHeight": 31}, "encoding": {"text": {"field": "text"}}},
        {"data": {"values": [{"spec": 3.58, "logL": 3.38, "text": "Horizontal\nbranch"}]}, "mark": {"type": "text", "align": "center", "baseline": "alphabetic", "lineBreak": "\n", "lineHeight": 30}, "encoding": {"text": {"field": "text"}}}
      ]
    },
    {
      "width": 520, "height": 48,
      "encoding": {
        "x": {"field": "spec", "type": "quantitative", "scale": {"domain": [0, 6.667], "nice": false, "zero": false}, "axis": null},
        "y": {"datum": 0.5, "type": "quantitative", "scale": {"domain": [0, 1], "nice": false, "zero": false}, "axis": null}
      },
      "layer": [
        {"data": {"values": [{"spec": -0.58, "spec2": 6.72}]}, "mark": {"type": "rect", "fill": {"gradient": "linear", "x1": 0, "x2": 1, "y1": 0, "y2": 0, "stops": [{"offset": 0, "color": "#233a94"}, {"offset": 0.08, "color": "#4257a8"}, {"offset": 0.22, "color": "#98a4d3"}, {"offset": 0.33, "color": "#d7dbef"}, {"offset": 0.42, "color": "#ffffff"}, {"offset": 0.52, "color": "#ffffff"}, {"offset": 0.58, "color": "#fcf7c4"}, {"offset": 0.64, "color": "#f7eb3c"}, {"offset": 0.72, "color": "#f4c52c"}, {"offset": 0.8, "color": "#ee951f"}, {"offset": 0.88, "color": "#e6601c"}, {"offset": 0.94, "color": "#d6192b"}, {"offset": 1, "color": "#b8252c"}]}},
         "encoding": {"x2": {"field": "spec2"}, "y": {"datum": 0}, "y2": {"datum": 1}}},
        {"data": {"name": "classes_left"}, "mark": {"type": "text", "align": "center", "baseline": "middle", "fontSize": 34, "fontWeight": "bold", "fill": "#1a1a1a", "stroke": "#1a1a1a", "strokeWidth": 4, "strokeJoin": "round", "dy": 1}, "encoding": {"text": {"field": "cls"}}},
        {"data": {"name": "classes_left"}, "mark": {"type": "text", "align": "center", "baseline": "middle", "fontSize": 34, "fontWeight": "bold", "fill": "#ffffff", "dy": 1}, "encoding": {"text": {"field": "cls"}}}
      ]
    },
    {
      "width": 520, "height": 48,
      "encoding": {
        "x": {"field": "spec", "type": "quantitative", "scale": {"domain": [0, 6.667], "nice": false, "zero": false}, "axis": null},
        "y": {"datum": 0.5, "type": "quantitative", "scale": {"domain": [0, 1], "nice": false, "zero": false}, "axis": null}
      },
      "layer": [
        {"data": {"values": [{"spec": -0.58, "spec2": 6.67}]}, "mark": {"type": "rect", "fill": {"gradient": "linear", "x1": 0, "x2": 1, "y1": 0, "y2": 0, "stops": [{"offset": 0, "color": "#233a94"}, {"offset": 0.08, "color": "#4257a8"}, {"offset": 0.22, "color": "#98a4d3"}, {"offset": 0.33, "color": "#d7dbef"}, {"offset": 0.42, "color": "#ffffff"}, {"offset": 0.52, "color": "#ffffff"}, {"offset": 0.58, "color": "#fcf7c4"}, {"offset": 0.64, "color": "#f7eb3c"}, {"offset": 0.72, "color": "#f4c52c"}, {"offset": 0.8, "color": "#ee951f"}, {"offset": 0.88, "color": "#e6601c"}, {"offset": 0.94, "color": "#d6192b"}, {"offset": 1, "color": "#b8252c"}]}},
         "encoding": {"x2": {"field": "spec2"}, "y": {"datum": 0}, "y2": {"datum": 1}}},
        {"data": {"name": "classes_right"}, "mark": {"type": "text", "align": "center", "baseline": "middle", "fontSize": 34, "fontWeight": "bold", "fill": "#1a1a1a", "stroke": "#1a1a1a", "strokeWidth": 4, "strokeJoin": "round", "dy": 1}, "encoding": {"text": {"field": "cls"}}},
        {"data": {"name": "classes_right"}, "mark": {"type": "text", "align": "center", "baseline": "middle", "fontSize": 34, "fontWeight": "bold", "fill": "#ffffff", "dy": 1}, "encoding": {"text": {"field": "cls"}}}
      ]
    }
  ],
  "config": {
    "view": {"stroke": null},
    "font": "Liberation Sans",
    "axis": {"labelFont": "Liberation Sans", "labelFontSize": 28, "labelColor": "#1a1a1a", "domainColor": "#444", "domainWidth": 1.6, "tickColor": "#444", "tickWidth": 1.6, "grid": false},
    "text": {"font": "Liberation Sans", "fontSize": 28, "color": "#1a1a1a"}
  }
}
